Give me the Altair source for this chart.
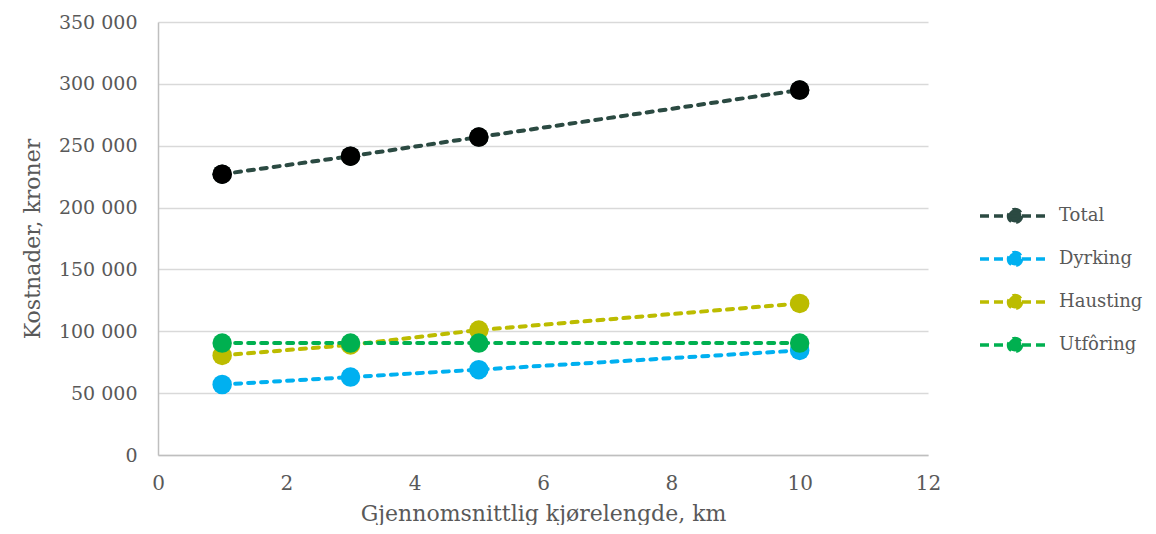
import altair as alt
import pandas as pd

x_km = [1, 3, 5, 10]
series = ["Total", "Dyrking", "Hausting", "Utfôring"]
total = [227000, 241500, 257000, 295000]
dyrking = [57000, 63000, 69000, 84500]
hausting = [80500, 89000, 101000, 122500]
utforing = [90500, 90500, 90500, 90500]
colors = ["#2B4A42", "#00B0F0", "#BCBC00", "#00B050"]

rows = []
for name, vals in zip(series, [total, dyrking, hausting, utforing]):
    for xv, yv in zip(x_km, vals):
        rows.append({"km": xv, "kr": yv, "serie": name})
df = pd.DataFrame(rows)

FONT = "DejaVu Serif"
TXT = "#595959"

legend_path = "M-6,0H1M-1.85,0A0.65,0.65 0 1,1 -3.15,0A0.65,0.65 0 1,1 -1.85,0Z"

color = alt.Color(
    "serie:N",
    scale=alt.Scale(domain=series, range=colors),
    sort=series,
    legend=alt.Legend(
        title=None,
        orient="none",
        legendX=870,
        legendY=182,
        symbolType=legend_path,
        symbolSize=400,
        symbolStrokeWidth=3.5,
        symbolDash=[9, 5],
        labelOffset=7,
        rowPadding=15,
        labelFont=FONT,
        labelFontSize=18,
        labelColor=TXT,
        labelLimit=200,
    ),
)

x = alt.X(
    "km:Q",
    scale=alt.Scale(domain=[0, 12], nice=False),
    axis=alt.Axis(
        values=[0, 2, 4, 6, 8, 10, 12],
        title="Gjennomsnittlig kjørelengde, km",
        grid=False,
        ticks=False,
        labelFlush=False,
        domainColor="#BFBFBF",
        domainWidth=1.5,
        labelPadding=18,
        labelFontSize=20,
        titlePadding=10,
    ),
)
y = alt.Y(
    "kr:Q",
    scale=alt.Scale(domain=[0, 350000], nice=False),
    axis=alt.Axis(
        values=[0, 50000, 100000, 150000, 200000, 250000, 300000, 350000],
        title="Kostnader, kroner",
        labelExpr="replace(format(datum.value, ','), ',', ' ')",
        grid=True,
        gridColor="#D9D9D9",
        gridWidth=1.5,
        ticks=False,
        domainColor="#BFBFBF",
        domainWidth=1.5,
        labelPadding=21,
        titlePadding=14,
    ),
)

base = alt.Chart(df)
lines = base.mark_line(strokeWidth=4, strokeDash=[6, 7], strokeCap="round").encode(
    x=x, y=y, color=color, order="km:Q"
)
points = base.mark_point(filled=True, size=380, opacity=1).encode(
    x=x, y=y, color=color
)
total_points = (
    base.transform_filter(alt.datum.serie == "Total")
    .mark_point(filled=True, size=380, opacity=1, color="#000000")
    .encode(x=x, y=y)
)

chart = (
    alt.layer(lines, points, total_points)
    .properties(
        width=770,
        height=433,
        autosize=alt.AutoSizeParams(type="none"),
        padding={"left": 150, "top": 14, "right": 220, "bottom": 70},
    )
    .configure_view(stroke=None)
    .configure_axis(
        labelFont=FONT,
        labelFontSize=19,
        labelColor=TXT,
        titleFont=FONT,
        titleFontSize=22,
        titleColor=TXT,
        titleFontWeight="normal",
    )
)

chart.save("out.html", embed_options={"renderer": "svg", "actions": False})
